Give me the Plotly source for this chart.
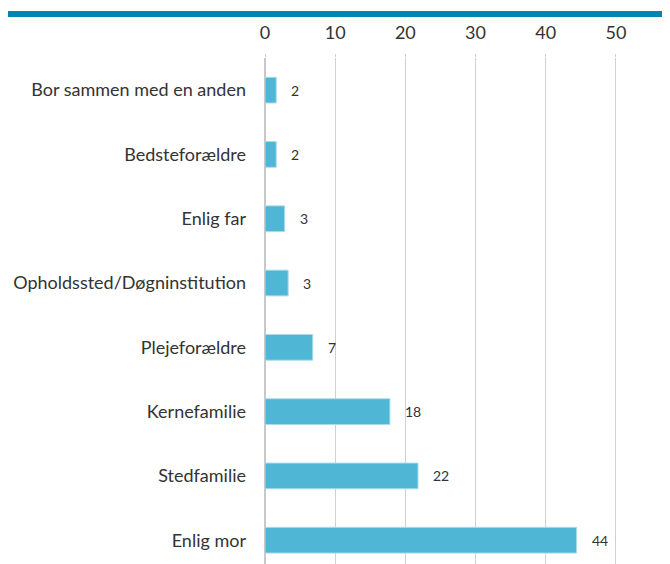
import plotly.graph_objects as go

categories = [
    "Enlig mor",
    "Stedfamilie",
    "Kernefamilie",
    "Plejeforældre",
    "Opholdssted/Døgninstitution",
    "Enlig far",
    "Bedsteforældre",
    "Bor sammen med en anden",
]
values = [44.4, 21.8, 17.8, 6.8, 3.3, 2.8, 1.6, 1.6]
labels = ["44", "22", "18", "7", "3", "3", "2", "2"]
x_ticks = [0, 10, 20, 30, 40, 50]

FONT = "Lato"
TEXT = "#333333"

fig = go.Figure()
fig.add_trace(
    go.Bar(
        x=values,
        y=categories,
        orientation="h",
        width=0.4,
        marker=dict(color="#4FB6D6", line=dict(color="#A9DCEB", width=1)),
        hoverinfo="skip",
    )
)

# value labels right of each bar
for v, c, t in zip(values, categories, labels):
    fig.add_annotation(
        x=v, y=c, text=t, showarrow=False, xanchor="left", xshift=13,
        font=dict(family=FONT, size=14, color=TEXT),
    )

# dark blue rule across the top
fig.add_shape(
    type="line", xref="paper", yref="paper",
    x0=-0.76, x1=1.16, y0=1.087, y1=1.087,
    line=dict(color="#0086B0", width=6),
)

# page body adds 8px, so margins are 8px smaller than the target layout
fig.update_layout(
    width=662,
    height=556,
    margin=dict(l=257, r=52, t=50, b=0),
    paper_bgcolor="white",
    plot_bgcolor="white",
    showlegend=False,
    font=dict(family=FONT, size=18, color=TEXT),
    xaxis=dict(
        side="top",
        range=[0, 50.3],
        tickvals=x_ticks,
        showgrid=True,
        gridcolor="#D0D0D0",
        gridwidth=1,
        zeroline=True,
        zerolinecolor="#C8C8C8",
        ticks="outside",
        ticklen=3,
        tickcolor="#D0D0D0",
        ticklabelstandoff=8,
        tickfont=dict(family=FONT, size=18, color=TEXT),
        automargin=False,
        fixedrange=True,
    ),
    yaxis=dict(
        categoryorder="array",
        categoryarray=categories,
        range=[-0.37, 7.5],
        showgrid=False,
        ticks="",
        ticklabelstandoff=18,
        tickfont=dict(family=FONT, size=18, color=TEXT),
        automargin=False,
        fixedrange=True,
    ),
)

fig.write_html("out.html")
